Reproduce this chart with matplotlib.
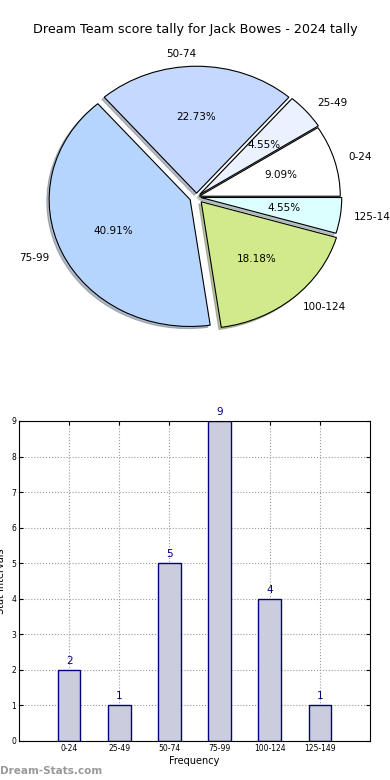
import numpy as np
import matplotlib
matplotlib.use("Agg")
import matplotlib.pyplot as plt

title = "Dream Team score tally for Jack Bowes - 2024 tally"
categories = ["0-24", "25-49", "50-74", "75-99", "100-124", "125-149"]
counts = [2, 1, 5, 9, 4, 1]
pie_colors = ["#ffffff", "#eaf1ff", "#c5d9ff", "#b5d5ff", "#d0ea8c", "#dcffff"]
explode = [0.02, 0.03, 0.03, 0.05, 0.05, 0.03]

fig = plt.figure(figsize=(3.9, 7.8), dpi=100)

# pie chart (slightly oval, like the original)
ax1 = fig.add_axes([0.034, 0.536, 0.94, 0.423])
wedges, texts, autotexts = ax1.pie(
    counts, labels=categories, colors=pie_colors, explode=explode,
    autopct="%.2f%%", startangle=0,
    shadow={"ox": -0.012, "oy": -0.012, "shade": 0.45},
    wedgeprops=dict(edgecolor="black", linewidth=0.8),
    textprops=dict(fontsize=7.5),
)
ax1.set_aspect("auto")
ax1.set_xlim(-1.3, 1.3)
ax1.set_ylim(-1.3, 1.3)
fig.text(0.5, 0.962, title, ha="center", va="center", fontsize=9.2)

# bar chart
ax2 = fig.add_axes([19 / 390, 1 - 741 / 780, 351 / 390, 320 / 780])
x = np.arange(len(categories))
ax2.bar(x, counts, width=0.45, color="#ccccdf", edgecolor="navy", linewidth=1.0, zorder=2)
for xi, c in zip(x, counts):
    ax2.text(xi, c + 0.12, str(c), ha="center", va="bottom", color="navy", fontsize=7.5)
ax2.set_xlim(-1, 6)
ax2.set_ylim(0, 9)
ax2.set_xticks(x)
ax2.set_xticklabels(categories)
ax2.set_yticks(range(10))
ax2.tick_params(labelsize=5.5, direction="in", top=True, right=True, length=3, pad=2)
ax2.grid(True, linestyle=":", color="#999999", linewidth=0.8, zorder=0)
ax2.set_axisbelow(True)
ax2.set_xlabel("Frequency", fontsize=7, labelpad=2)
ax2.set_ylabel("Stat Intervals", fontsize=7, labelpad=4)

fig.text(0.0, 0.012, "Dream-Stats.com", ha="left", va="center", fontsize=7.5,
         color="#999999", fontweight="bold")

plt.savefig("out.png", dpi=100)
plt.close()
